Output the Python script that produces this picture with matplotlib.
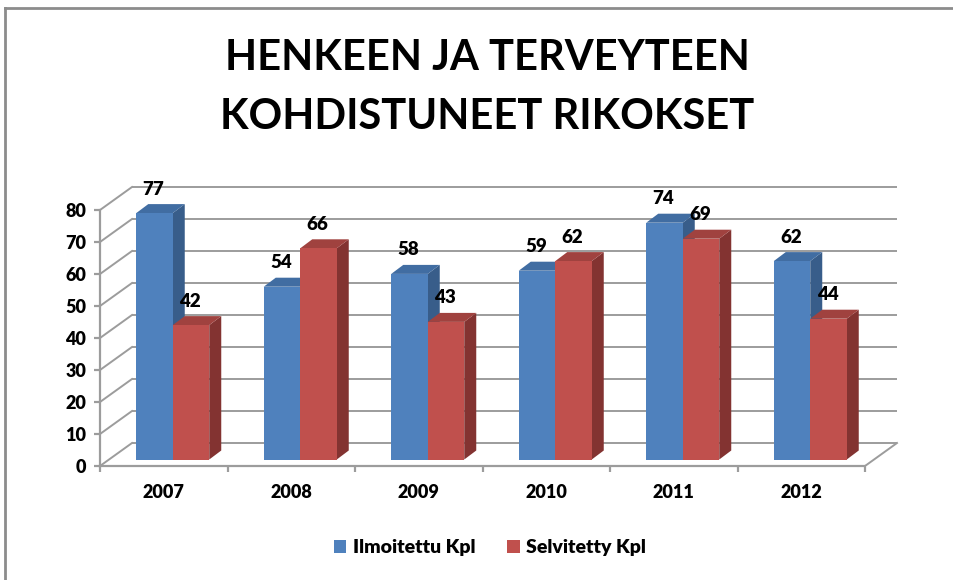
import matplotlib
matplotlib.use("Agg")
import matplotlib.pyplot as plt
from matplotlib.patches import Polygon, Patch
from matplotlib.lines import Line2D

# ---- data ----
years = ['2007', '2008', '2009', '2010', '2011', '2012']
ilmoitettu = [77, 54, 58, 59, 74, 62]
selvitetty = [42, 66, 43, 62, 69, 44]
yticks = [0, 10, 20, 30, 40, 50, 60, 70, 80]
title_lines = ['HENKEEN JA TERVEYTEEN', 'KOHDISTUNEET RIKOKSET']
series_names = ['Ilmoitettu Kpl', 'Selvitetty Kpl']

# ---- style ----
FONT = 'Lato'
WEIGHT = 'heavy'
W, H = 954, 580
PX_CAT, PX_VAL = 127.5, 3.2
blue = dict(front='#4F81BD', top='#416DA2', side='#385D8A')
red = dict(front='#C0504D', top='#A0423F', side='#833331')
grid_c = '#9C9C9C'

# depth offsets converted to data units
wall_dx, wall_dy = 32 / PX_CAT, 23 / PX_VAL
off_dx, off_dy = 9 / PX_CAT, 6.5 / PX_VAL
bar_dx, bar_dy = 12 / PX_CAT, 9 / PX_VAL
bar_w = 36.5 / PX_CAT

fig = plt.figure(figsize=(W / 100, H / 100), dpi=100)
xlim = (0, 6.4)
ylim = (0, 90)
ax = fig.add_axes([100 / W, (H - 466) / H,
                   (xlim[1] - xlim[0]) * PX_CAT / W,
                   (ylim[1] - ylim[0]) * PX_VAL / H])
ax.set_xlim(*xlim)
ax.set_ylim(*ylim)
ax.patch.set_alpha(0)

n = len(years)
ymax = yticks[-1]
# back wall gridlines and left wall diagonals
for v in yticks:
    ax.plot([wall_dx, n + wall_dx], [v + wall_dy, v + wall_dy],
            color=grid_c, lw=1.4, zorder=1, solid_capstyle='butt')
    ax.plot([0, wall_dx], [v, v + wall_dy], color=grid_c, lw=1.4, zorder=1)
# floor right edge
ax.plot([n, n + wall_dx], [0, wall_dy], color=grid_c, lw=1.4, zorder=1)

# bars
for i in range(n):
    for j, (vals, col) in enumerate([(ilmoitettu, blue), (selvitetty, red)]):
        v = vals[i]
        x0 = i + 0.5 - bar_w + j * bar_w + off_dx
        x1 = x0 + bar_w
        b = off_dy
        zo = 3 + i * 2 + j * 0.5
        ax.add_patch(Polygon([(x1, b), (x1, b + v), (x1 + bar_dx, b + v + bar_dy),
                              (x1 + bar_dx, b + bar_dy)], closed=True,
                             facecolor=col['side'], edgecolor='none', zorder=zo))
        ax.add_patch(Polygon([(x0, b + v), (x1, b + v), (x1 + bar_dx, b + v + bar_dy),
                              (x0 + bar_dx, b + v + bar_dy)], closed=True,
                             facecolor=col['top'], edgecolor='none', zorder=zo))
        ax.bar(x0, v, width=bar_w, bottom=b, align='edge', color=col['front'],
               edgecolor='none', zorder=zo + 0.1)
        ax.annotate(str(v), xy=(x0 + bar_w / 2, b + v), xytext=(-1, 24),
                    textcoords='offset pixels', ha='center', va='center',
                    fontsize=13.5, fontweight=WEIGHT, family=FONT, color='black',
                    zorder=20)

# axes / spines
for s in ['top', 'right']:
    ax.spines[s].set_visible(False)
ax.spines['left'].set_bounds(0, ymax)
ax.spines['bottom'].set_bounds(0, n)
for s in ['left', 'bottom']:
    ax.spines[s].set_color(grid_c)
    ax.spines[s].set_linewidth(1.6)

ax.set_yticks(yticks)
ax.set_yticklabels([str(t) for t in yticks])
ax.tick_params(axis='y', length=4, width=1.6, color=grid_c, pad=6)
ax.set_xticks(range(n + 1))
ax.set_xticklabels([''] * (n + 1))
ax.tick_params(axis='x', which='major', length=4, width=1.6, color=grid_c)
ax.set_xticks([i + 0.5 for i in range(n)], minor=True)
ax.set_xticklabels(years, minor=True)
ax.tick_params(axis='x', which='minor', length=0, pad=13)
for lab in ax.get_yticklabels() + ax.get_xticklabels(minor=True):
    lab.set_fontfamily(FONT)
    lab.set_fontweight(WEIGHT)
    lab.set_fontsize(13)

# title
fig.text(487 / W, 1 - 58 / H, title_lines[0], ha='center', va='center',
         fontsize=30, fontweight='bold', family=FONT)
fig.text(487 / W, 1 - 117 / H, title_lines[1], ha='center', va='center',
         fontsize=30, fontweight='bold', family=FONT)

# legend
handles = [Patch(facecolor=blue['front'], edgecolor='none'),
           Patch(facecolor=red['front'], edgecolor='none')]
leg = fig.legend(handles, series_names, loc='center', bbox_to_anchor=(490 / W, 1 - 548 / H),
                 ncol=2, frameon=False, handlelength=0.65, handleheight=0.65,
                 handletextpad=0.35, columnspacing=1.6,
                 prop=dict(family=FONT, weight=WEIGHT, size=14))

# outer frame (left and top edges visible)
fig.add_artist(Line2D([5.5 / W, 5.5 / W], [0, 1 - 8 / H], transform=fig.transFigure,
                      color='#8C8C8C', lw=2))
fig.add_artist(Line2D([5.5 / W, 1.01], [1 - 8 / H, 1 - 8 / H], transform=fig.transFigure,
                      color='#8C8C8C', lw=2))

fig.savefig('out.png', dpi=100)
